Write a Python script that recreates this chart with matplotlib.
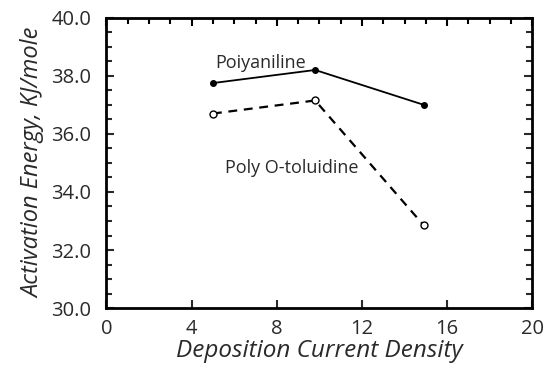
import matplotlib.pyplot as plt
from matplotlib.ticker import MultipleLocator

plt.rcParams['font.family'] = ['Open Sans', 'DejaVu Sans']

# Data
density = [5, 9.8, 14.9]
polyaniline = [37.75, 38.2, 37.0]
poly_toluidine = [36.7, 37.15, 32.85]

# Plot
fig = plt.figure(figsize=(5.46, 3.69), dpi=100)
ax = fig.add_axes([0.195, 0.165, 0.78, 0.787])

ax.plot(density, polyaniline, color='black', lw=1.3, marker='o', ms=4,
        mfc='black')
ax.plot(density, poly_toluidine, color='black', lw=1.6, ls=(0, (4, 3)),
        marker='o', ms=5, mfc='white', mew=1.0)

ax.text(5.1, 38.45, 'Poiyaniline', fontsize=13, color='#2a2a2a',
        va='center')
ax.text(8.7, 34.83, 'Poly O-toluidine', fontsize=13, color='#2a2a2a',
        ha='center', va='center')

ax.set_xlim(0, 20)
ax.set_ylim(30, 40)
ax.xaxis.set_major_locator(MultipleLocator(4))
ax.yaxis.set_minor_locator(MultipleLocator(0.5))
ax.set_yticks([30, 32, 34, 36, 38, 40], ['30.0', '32.0', '34.0', '36.0', '38.0', '40.0'])

ax.tick_params(which='both', direction='in', width=1.5, labelsize=14.5,
               colors='#2a2a2a', left=True, right=True)
ax.tick_params(which='major', length=6)
ax.tick_params(which='minor', length=4)
ax.tick_params(axis='y', pad=11)
ax.tick_params(axis='x', pad=8)

# top minor ticks every 1 unit (secondary axis to keep bottom clean)
top = ax.secondary_xaxis('top')
top.xaxis.set_major_locator(MultipleLocator(4))
top.xaxis.set_minor_locator(MultipleLocator(1))
top.tick_params(which='both', direction='in', width=1.5, labeltop=False)
top.tick_params(which='major', length=6)
top.tick_params(which='minor', length=4)

for s in ax.spines.values():
    s.set_linewidth(2)

ax.set_xlabel('Deposition Current Density', fontsize=17.5, style='italic',
              color='#2a2a2a', labelpad=0)
ax.set_ylabel('Activation Energy, KJ/mole', fontsize=17, style='italic',
              color='#2a2a2a', labelpad=4)

fig.savefig('out.png', dpi=100)
